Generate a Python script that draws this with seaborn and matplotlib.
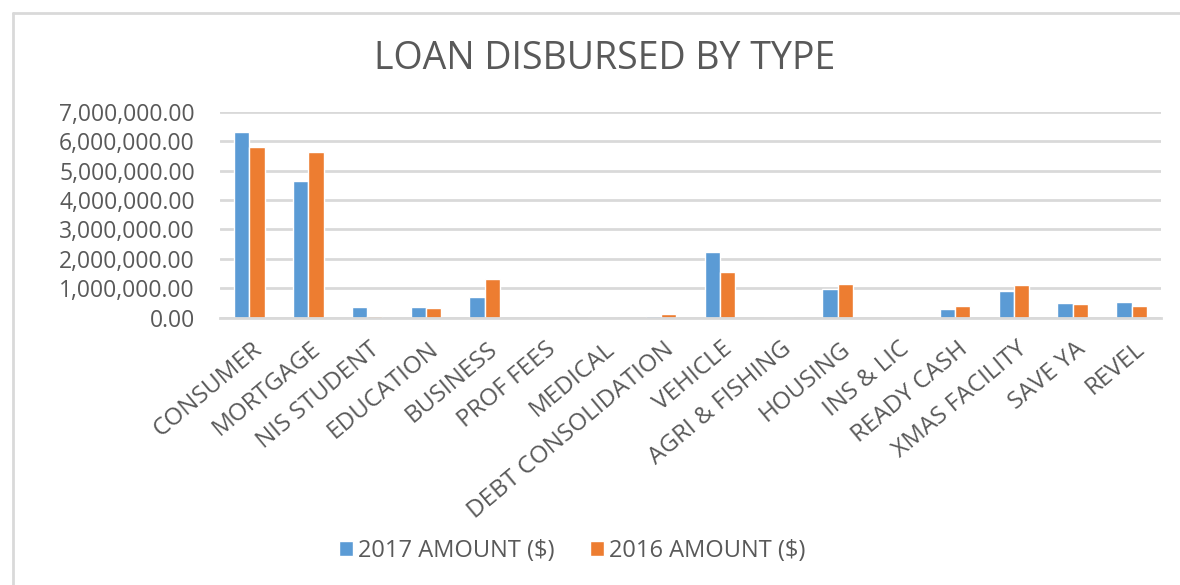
"""Loan disbursed by type: grouped bar chart, 2017 vs 2016."""
import matplotlib

matplotlib.use("Agg")
import matplotlib.pyplot as plt
import matplotlib.transforms as mtransforms
from matplotlib.lines import Line2D
from matplotlib.patches import Patch
from matplotlib.ticker import FuncFormatter, MultipleLocator
import pandas as pd
import seaborn as sns

# ------------------------------------------------------------------ #
# Data
# ------------------------------------------------------------------ #
loan_types = [
    "CONSUMER", "MORTGAGE", "NIS STUDENT", "EDUCATION", "BUSINESS",
    "PROF FEES", "MEDICAL", "DEBT CONSOLIDATION", "VEHICLE",
    "AGRI & FISHING", "HOUSING", "INS & LIC", "READY CASH",
    "XMAS FACILITY", "SAVE YA", "REVEL",
]
amount_2017 = [
    6300000, 4640000, 360000, 360000, 710000, 0, 0, 60000, 2240000,
    0, 970000, 0, 290000, 900000, 500000, 540000,
]
amount_2016 = [
    5810000, 5640000, 60000, 330000, 1330000, 0, 0, 110000, 1540000,
    0, 1160000, 0, 410000, 1110000, 470000, 410000,
]
series_names = ["2017 AMOUNT ($)", "2016 AMOUNT ($)"]
colors = ["#5B9BD5", "#ED7D31"]

df = pd.DataFrame({
    "type": loan_types * 2,
    "amount": amount_2017 + amount_2016,
    "series": [series_names[0]] * len(loan_types)
    + [series_names[1]] * len(loan_types),
})

# ------------------------------------------------------------------ #
# Style
# ------------------------------------------------------------------ #
sns.set_theme(style="white")
plt.rcParams["font.family"] = ["Open Sans", "DejaVu Sans"]
TEXT = "#595959"
GRID = "#d9d9d9"

W, H = 1180, 585
fig = plt.figure(figsize=(W / 100, H / 100), dpi=100)
ax = fig.add_axes([220 / W, 1 - 317.7 / H, (1161 - 220) / W, (317.7 - 111.7) / H])

sns.barplot(
    data=df, x="type", y="amount", hue="series",
    palette=colors, saturation=1, width=0.52, edgecolor="white",
    linewidth=1.0, ax=ax, legend=False,
)

ax.set_ylim(0, 7_000_000)
ax.yaxis.set_major_locator(MultipleLocator(1_000_000))
ax.yaxis.set_major_formatter(FuncFormatter(lambda v, _: f"{v:,.2f}"))
ax.grid(axis="y", color=GRID, linewidth=2)
ax.set_axisbelow(True)
for side in ["top", "right", "left"]:
    ax.spines[side].set_visible(False)
ax.spines["bottom"].set_color(GRID)
ax.spines["bottom"].set_linewidth(2)
ax.set_xlabel("")
ax.set_ylabel("")
ax.tick_params(axis="both", length=0, colors=TEXT)
ax.tick_params(axis="y", pad=18, labelsize=16.5)
ax.tick_params(axis="x", pad=14, labelsize=17.5)
shift = mtransforms.ScaledTranslation(2 / 100, 0, fig.dpi_scale_trans)
for lbl in ax.get_xticklabels():
    lbl.set_rotation(40)
    lbl.set_ha("right")
    lbl.set_rotation_mode("anchor")
    lbl.set_transform(lbl.get_transform() + shift)

fig.text(605 / W, 1 - 69 / H, "LOAN DISBURSED BY TYPE", ha="center",
         va="baseline", fontsize=27, color=TEXT)

handles = [Patch(facecolor=c, edgecolor="white") for c in colors]
fig.legend(
    handles, series_names, loc="center", bbox_to_anchor=(572 / W, 1 - 551 / H),
    ncol=2, frameon=False, fontsize=17, labelcolor=TEXT,
    handlelength=0.6, handleheight=0.6, handletextpad=0.2, columnspacing=1.5,
)

# Chart border (only left and top edges fall inside the image)
fig.add_artist(Line2D([13 / W, 13 / W], [0, 1 - 13 / H], color=GRID,
                      linewidth=2, transform=fig.transFigure))
fig.add_artist(Line2D([13 / W, 1], [1 - 13 / H, 1 - 13 / H], color=GRID,
                      linewidth=2, transform=fig.transFigure))

fig.savefig("out.png", dpi=100, facecolor="white")
